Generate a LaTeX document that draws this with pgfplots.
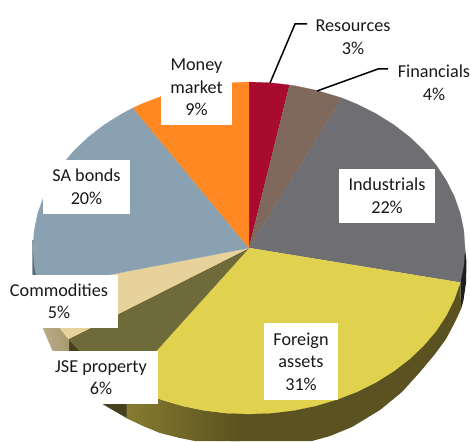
\documentclass[border=0pt]{standalone}
\usepackage{pgfplots}
\pgfplotsset{compat=1.18}
\usepackage{fontspec}
\setmainfont{Carlito}
\definecolor{cRes}{HTML}{A80A30}
\definecolor{cFin}{HTML}{7F685C}
\definecolor{cInd}{HTML}{6F6E73}
\definecolor{cFor}{HTML}{E0D14F}
\definecolor{cJse}{HTML}{6F6A3A}
\definecolor{cCom}{HTML}{E8D29C}
\definecolor{cSab}{HTML}{8AA1B1}
\definecolor{cMon}{HTML}{FF8822}
\definecolor{sFor}{HTML}{5A5220}
\definecolor{sForL}{HTML}{877B30}
\definecolor{sJse}{HTML}{45401E}
\definecolor{sComL}{HTML}{BBAE8C}
\definecolor{sComR}{HTML}{A8996F}
\definecolor{sSab}{HTML}{5A6A78}
\definecolor{sInd}{HTML}{1E1E20}
\begin{document}
\begin{tikzpicture}
\useasboundingbox (0,0) rectangle (470pt,441pt);
\begin{axis}[
  at={(0,0)},anchor=south west,
  width=470pt,height=441pt,scale only axis,
  xmin=0,xmax=470,ymin=0,ymax=441,y dir=reverse,
  hide axis,clip=true,
]
% side walls
\addplot[fill=sSab,draw=none] coordinates {(32.3,240)(32.3,272)(35,300)(39.4,318)(39.4,288)(60,240)};
\addplot[fill=sInd,draw=none] coordinates {(465,248)(466.5,262)(466,283)(463.5,300)(461,309)(460.3,282.5)};
\addplot[fill=sFor,draw=none] coordinates {(460.3,282.5)(461,309)(455,322)(446,339)(435,354)(420,372)(402,392)(380,410)(352,427)(330,436)(312,441)(230,441)(230,400)};
\addplot[left color=sForL,right color=sFor,draw=none] coordinates {(126,384.5)(141,391.8)(161.2,399.6)(182.3,405.9)(204.1,410.4)(226.4,413.1)(240,414)(240,441)(195,441)(180,438)(160,433)(143,426)(126,418)};
\addplot[fill=sJse,draw=none] coordinates {(126.5,384.5)(126.5,418)(104,405)(86,392)(68.5,374)(68.5,339)};
\addplot[left color=sComL,right color=sComR,draw=none] coordinates {(69,339)(69,374)(61.9,366)(51.7,349)(44,331)(39.4,318)(39.4,288)};
% top faces
\addplot[fill=cRes,draw=cRes,line width=.2pt] coordinates {(249,248)(249,82)(271.6,82.9)(289.5,85)};
\addplot[fill=cFin,draw=cFin,line width=.2pt] coordinates {(249,248)(289.5,85)(293.9,85.6)(315.7,90.1)(336.8,96.4)(342,98)};
\addplot[fill=cInd,draw=cInd,line width=.2pt] coordinates {(249,248)(342,98)(357,104.2)(376,113.7)(393.5,124.6)(409.5,136.9)(423.7,150.4)(436.1,165)(446.3,180.5)(454.4,196.7)(460.3,213.5)(463.8,230.6)(465,248)(463.8,265.4)(460.3,282.5)};
\addplot[fill=cFor,draw=cFor,line width=.2pt] coordinates {(249,248)(460.3,282.5)(454.4,299.3)(446.3,315.5)(436.1,331)(423.7,345.6)(409.5,359.1)(393.5,371.4)(376,382.3)(357,391.8)(336.8,399.6)(315.7,405.9)(293.9,410.4)(271.6,413.1)(249,414)(226.4,413.1)(204.1,410.4)(182.3,405.9)(161.2,399.6)(141,391.8)(126,384.5)};
\addplot[fill=cJse,draw=cJse,line width=.2pt] coordinates {(249,248)(126,384.5)(122,382.3)(104.5,371.4)(88.5,359.1)(74.3,345.6)(68.5,339)};
\addplot[fill=cCom,draw=cCom,line width=.2pt] coordinates {(249,248)(68.5,339)(61.9,331)(51.7,315.5)(43.6,299.3)(39.4,288.2)};
\addplot[fill=cSab,draw=cSab,line width=.2pt] coordinates {(249,248)(39.4,288.2)(37.7,282.5)(34.2,265.4)(33,248)(34.2,230.6)(37.7,213.5)(43.6,196.7)(51.7,180.5)(61.9,165)(74.3,150.4)(88.5,136.9)(104.5,124.6)(122,113.7)(133,108)};
\addplot[fill=cMon,draw=cMon,line width=.2pt] coordinates {(249,248)(133,108)(141,104.2)(161.2,96.4)(182.3,90.1)(204.1,85.6)(226.4,82.9)(249,82)};
% leader lines
\addplot[black,line width=1.5pt] coordinates {(270,83)(295,24)(307,24)};
\addplot[black,line width=1.5pt] coordinates {(317,91)(378,69)(388,69)};
% labels
\tikzset{lb/.style={align=center,inner sep=0pt,anchor=center,text=black!90,font=\fontsize{18.2}{22.5}\selectfont}}
\node[lb] at (axis cs:353,37) {Resources\\3\%};
\node[lb] at (axis cs:434,83) {Financials\\4\%};
\node[lb,fill=white,minimum width=71pt,minimum height=75pt] at (axis cs:196.5,87.5) {Money\\market\\9\%};
\node[lb,fill=white,minimum width=96pt,minimum height=54pt] at (axis cs:387,196) {Industrials\\22\%};
\node[lb,fill=white,minimum width=74pt,minimum height=77pt] at (axis cs:301,361.5) {Foreign\\assets\\31\%};
\node[lb,fill=white,minimum width=114pt,minimum height=53pt] at (axis cs:101,377.5) {JSE property\\6\%};
\node[lb,fill=white,minimum width=118pt,minimum height=53pt] at (axis cs:59,301.5) {Commodities\\5\%};
\node[lb,fill=white,minimum width=87pt,minimum height=54pt] at (axis cs:86.5,187) {SA bonds\\20\%};
\end{axis}
\end{tikzpicture}
\end{document}
